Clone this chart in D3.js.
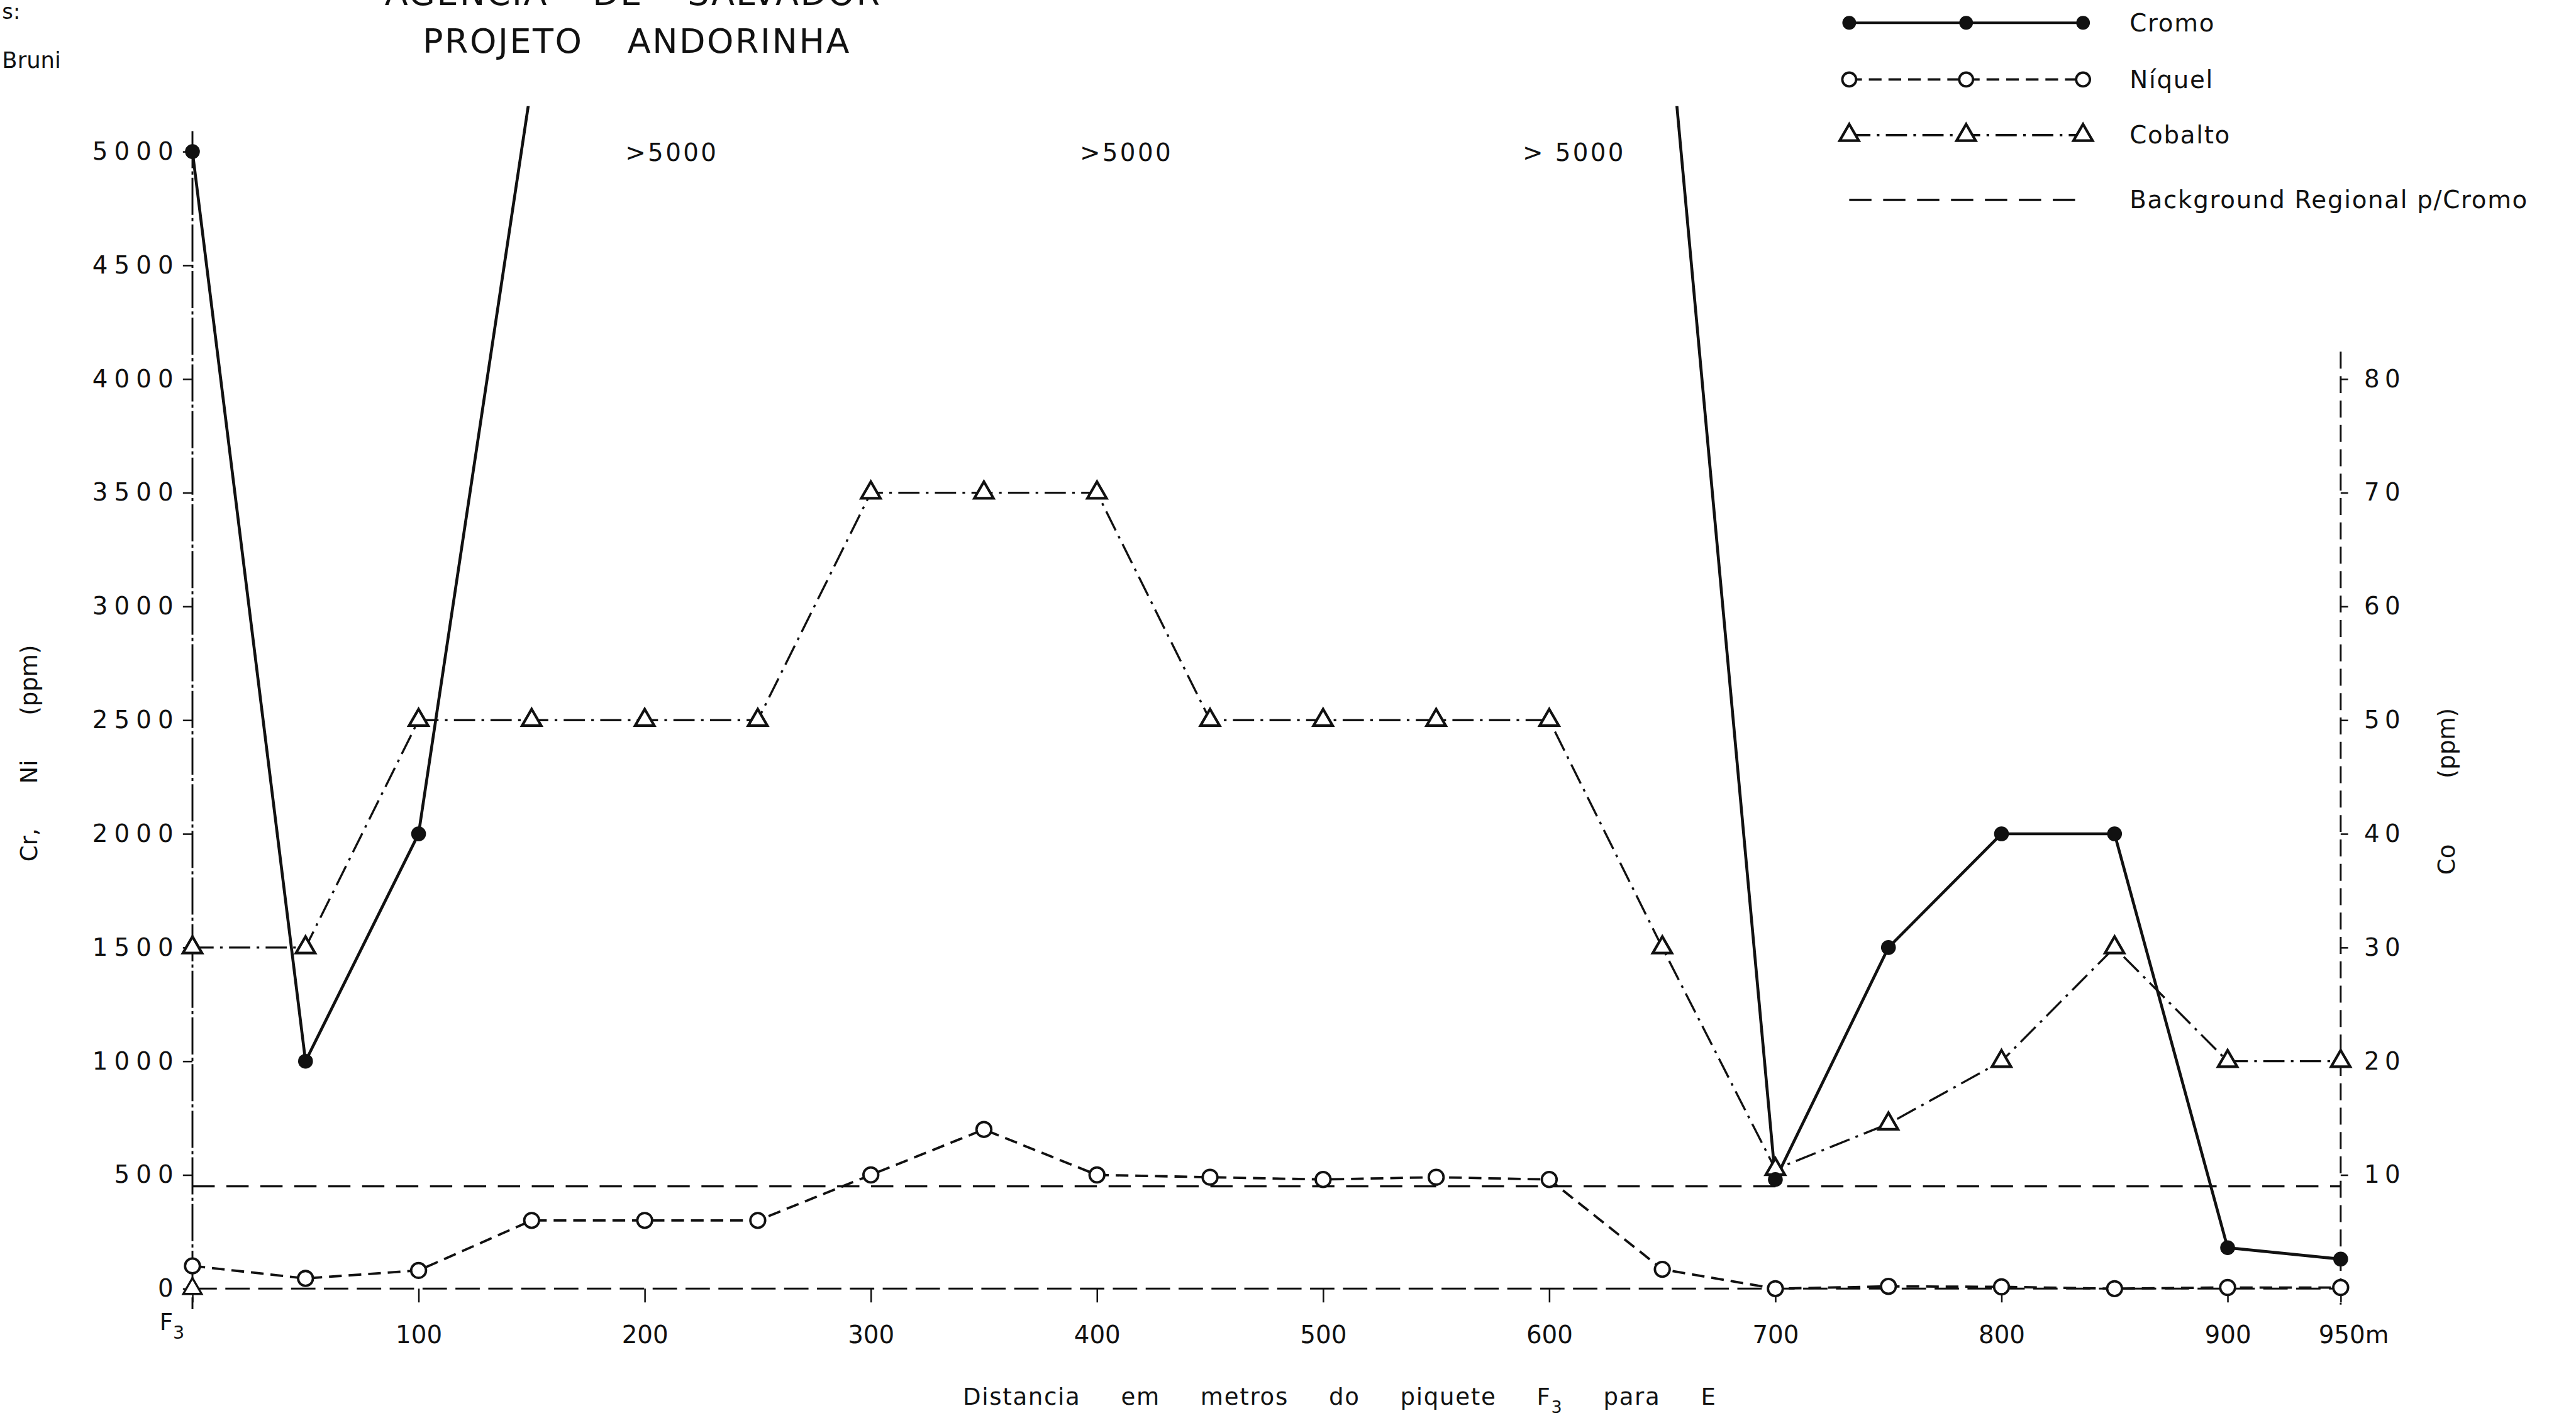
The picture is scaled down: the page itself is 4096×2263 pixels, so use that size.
<!DOCTYPE html>
<html>
<head>
<meta charset="utf-8">
<script src="https://cdn.jsdelivr.net/npm/d3@7"></script>
<style>
  html, body { margin: 0; padding: 0; background: #fff; }
  svg { display: block; }
  text { font-family: "DejaVu Sans", sans-serif; fill: #111; }
</style>
</head>
<body>
<svg id="svg"></svg>
<script>
// distances along the line, metres east of piquete F3
const distances = [0, 50, 100, 150, 200, 250, 300, 350, 400, 450, 500, 550, 600, 650, 700, 750, 800, 850, 900, 950];
// Cr ppm (null = off scale, > 5000; 150 and 650 are where the lines head off the top)
const cromo = [5000, 1000, 2000, 5300, null, null, null, null, null, null, null, null, null, 5900, 480, 1500, 2000, 2000, 180, 130];
// Ni ppm
const niquel = [100, 45, 80, 300, 300, 300, 500, 700, 500, 490, 480, 490, 480, 85, 0, 10, 8, 0, 5, 5];
// Co ppm (right axis)
const cobalto = [30, 30, 50, 50, 50, 50, 70, 70, 70, 50, 50, 50, 50, 30, 10.5, 14.5, 20, 30, 20, 20];
const backgroundCr = 450;

const crTicks = [0, 500, 1000, 1500, 2000, 2500, 3000, 3500, 4000, 4500, 5000];
const coTicks = [10, 20, 30, 40, 50, 60, 70, 80];
const xTicks = [0, 100, 200, 300, 400, 500, 600, 700, 800, 900, 950];
const xTickLabels = ["", "100", "200", "300", "400", "500", "600", "700", "800", "900", "950m"];
const overDistances = [212, 413, 611];
const overLabels = [">5000", ">5000", "> 5000"];
const legendNames = ["Cromo", "Níquel", "Cobalto", "Background Regional p/Cromo"];

const k = 0.843;            // reference px -> page px
const s = v => v * k;
const width = 4096, height = 2263;
const ink = "#111";
const cond = "'DejaVu Sans Condensed', 'DejaVu Sans', sans-serif";

let svg = d3.select("#svg").attr("width", width).attr("height", height);

let xScale = d3.scaleLinear().domain([0, 950]).range([s(363), s(4415)]);
let yScale = d3.scaleLinear().domain([0, 5000]).range([s(2431), s(286)]);
let coScale = d3.scaleLinear().domain([0, 100]).range([s(2431), s(286)]);

const dashNi = `${s(24)},${s(13)}`;
const dashCo = `${s(40)},${s(12)},${s(5)},${s(12)}`;
const dashBg = `${s(42)},${s(22)}`;

// ---- axes
let yAxis = svg.append("g")
    .attr("transform", `translate(${xScale(0)},0)`)
    .call(d3.axisLeft(yScale).tickValues(crTicks).tickFormat(d => d)
        .tickSize(s(18)).tickPadding(s(6)).tickSizeOuter(0));
yAxis.select(".domain").remove();
yAxis.selectAll(".tick line").attr("stroke", ink).attr("stroke-width", s(3));
yAxis.selectAll(".tick text")
    .attr("font-family", "'DejaVu Sans', sans-serif")
    .attr("font-size", s(46))
    .attr("letter-spacing", s(12))
    .attr("fill", ink);
yAxis.append("line")
    .attr("y1", yScale(5090)).attr("y2", yScale(-90))
    .attr("stroke", ink).attr("stroke-width", s(3.5))
    .attr("stroke-dasharray", `${s(70)},${s(6)},${s(6)},${s(6)}`);

let coAxis = svg.append("g")
    .attr("transform", `translate(${xScale(950)},0)`)
    .call(d3.axisRight(coScale).tickValues(coTicks).tickSize(s(14)).tickPadding(s(30)).tickSizeOuter(0));
coAxis.select(".domain").remove();
coAxis.selectAll(".tick line").attr("stroke", ink).attr("stroke-width", s(3));
coAxis.selectAll(".tick text")
    .attr("font-family", "'DejaVu Sans', sans-serif")
    .attr("font-size", s(46))
    .attr("letter-spacing", s(10))
    .attr("fill", ink);
coAxis.append("line")
    .attr("y1", coScale(82.4)).attr("y2", coScale(-1.4))
    .attr("stroke", ink).attr("stroke-width", s(3.5))
    .attr("stroke-dasharray", `${s(32)},${s(14)}`);

let xAxis = svg.append("g")
    .attr("transform", `translate(0,${yScale(0)})`)
    .call(d3.axisBottom(xScale).tickValues(xTicks).tickSize(s(26)).tickPadding(s(44))
        .tickFormat((d, i) => xTickLabels[i]).tickSizeOuter(0));
xAxis.select(".domain").remove();
xAxis.selectAll(".tick line").attr("stroke", ink).attr("stroke-width", s(3));
xAxis.selectAll(".tick text")
    .attr("font-family", cond)
    .attr("font-size", s(46))
    .attr("fill", ink)
    .attr("dx", d => d === 950 ? s(24) : 0);
xAxis.append("line")
    .attr("x1", xScale(0)).attr("x2", xScale(950))
    .attr("stroke", ink).attr("stroke-width", s(3.5))
    .attr("stroke-dasharray", `${s(46)},${s(16)}`);
xAxis.append("path")
    .attr("transform", `translate(${xScale(0)},0)`)
    .attr("d", d3.symbol(d3.symbolTriangle).size(s(s(520)))())
    .attr("fill", "#fff").attr("stroke", ink).attr("stroke-width", s(4));

// F3 under the origin
let f3 = svg.append("text")
    .attr("x", xScale(0) - s(62)).attr("y", yScale(0) + s(78))
    .attr("font-family", cond).attr("font-size", s(44));
f3.append("tspan").text("F");
f3.append("tspan").attr("font-size", s(34)).attr("dy", s(16)).text("3");

// ---- series
const points = distances.map((d, i) => ({d, cr: cromo[i], ni: niquel[i], co: cobalto[i]}));

svg.append("clipPath").attr("id", "plotClip")
  .append("rect")
    .attr("x", 0).attr("y", yScale(5200))
    .attr("width", width).attr("height", height);

let plot = svg.append("g").attr("id", "mark");

// background regional for Cr
plot.append("line")
    .attr("x1", xScale(0)).attr("x2", xScale(950))
    .attr("y1", yScale(backgroundCr)).attr("y2", yScale(backgroundCr))
    .attr("stroke", ink).attr("stroke-width", s(4))
    .attr("stroke-dasharray", dashBg);

let coLine = d3.line().x(d => xScale(d.d)).y(d => coScale(d.co));
plot.append("path")
    .attr("d", coLine(points))
    .attr("fill", "none").attr("stroke", ink).attr("stroke-width", s(4))
    .attr("stroke-dasharray", dashCo);

let niLine = d3.line().x(d => xScale(d.d)).y(d => yScale(d.ni));
plot.append("path")
    .attr("d", niLine(points))
    .attr("fill", "none").attr("stroke", ink).attr("stroke-width", s(4.5))
    .attr("stroke-dasharray", dashNi);

let crLine = d3.line().defined(d => d.cr != null).x(d => xScale(d.d)).y(d => yScale(d.cr));
plot.append("path")
    .attr("clip-path", "url(#plotClip)")
    .attr("d", crLine(points))
    .attr("fill", "none").attr("stroke", ink).attr("stroke-width", s(5.5));

const triangle = d3.symbol(d3.symbolTriangle).size(s(s(560)));

plot.selectAll(".coPt")
  .data(points)
  .join("path")
    .attr("class", "coPt")
    .attr("transform", d => `translate(${xScale(d.d)},${coScale(d.co)})`)
    .attr("d", triangle())
    .attr("fill", "#fff").attr("stroke", ink).attr("stroke-width", s(5));

plot.selectAll(".niPt")
  .data(points)
  .join("circle")
    .attr("class", "niPt")
    .attr("cx", d => xScale(d.d)).attr("cy", d => yScale(d.ni))
    .attr("r", s(14))
    .attr("fill", "#fff").attr("stroke", ink).attr("stroke-width", s(4.5));

plot.selectAll(".crPt")
  .data(points.filter(d => d.cr != null && d.cr <= 5000))
  .join("circle")
    .attr("class", "crPt")
    .attr("cx", d => xScale(d.d)).attr("cy", d => yScale(d.cr))
    .attr("r", s(14))
    .attr("fill", ink);

// off-scale notes
svg.selectAll(".over")
  .data(overDistances)
  .join("text")
    .attr("class", "over")
    .attr("x", d => xScale(d)).attr("y", yScale(5000) + s(18))
    .attr("text-anchor", "middle")
    .attr("font-size", s(46))
    .attr("letter-spacing", s(4))
    .text((d, i) => overLabels[i]);

// ---- titles
svg.append("text")
    .attr("x", s(1201)).attr("y", s(100))
    .attr("text-anchor", "middle")
    .attr("font-family", cond).attr("font-size", s(64))
    .attr("letter-spacing", s(3))
    .style("word-spacing", `${s(60)}px`)
    .text("PROJETO ANDORINHA");

svg.append("text")
    .attr("x", s(1194)).attr("y", s(10))
    .attr("text-anchor", "middle")
    .attr("font-family", cond).attr("font-size", s(64))
    .attr("letter-spacing", s(3))
    .style("word-spacing", `${s(60)}px`)
    .text("AGENCIA DE SALVADOR");

svg.append("text")
    .attr("x", s(4)).attr("y", s(128))
    .attr("font-family", cond).attr("font-size", s(42))
    .text("Bruni");

svg.append("text")
    .attr("x", s(4)).attr("y", s(36))
    .attr("font-family", cond).attr("font-size", s(40))
    .text("s:");

svg.append("text")
    .attr("transform", `translate(${s(70)},${s(1421)}) rotate(-90)`)
    .attr("text-anchor", "middle")
    .attr("font-family", cond).attr("font-size", s(44))
    .style("word-spacing", `${s(70)}px`)
    .text("Cr, Ni (ppm)");

svg.append("text")
    .attr("transform", `translate(${s(4630)},${s(1493)}) rotate(-90)`)
    .attr("text-anchor", "middle")
    .attr("font-family", cond).attr("font-size", s(44))
    .style("word-spacing", `${s(110)}px`)
    .text("Co (ppm)");

let xTitle = svg.append("text")
    .attr("x", s(2527)).attr("y", s(2650))
    .attr("text-anchor", "middle")
    .attr("font-family", cond).attr("font-size", s(44))
    .attr("letter-spacing", s(2))
    .style("word-spacing", `${s(60)}px`);
xTitle.append("tspan").text("Distancia em metros do piquete F");
xTitle.append("tspan").attr("font-size", s(32)).attr("dy", s(16)).text("3");
xTitle.append("tspan").attr("dy", -s(16)).text(" para E");

// ---- legend
const legendY = [43, 150, 255, 377];
const legendMarks = [0, 0.5, 1];
let lx = d3.scaleLinear().domain([0, 1]).range([s(3488), s(3929)]);
let legend = svg.append("g").attr("class", "legend");

legendNames.forEach((name, i) => {
  let row = legend.append("g").attr("transform", `translate(0,${s(legendY[i])})`);
  let dash = [null, dashNi, dashCo, dashBg][i];
  row.append("line")
      .attr("x1", lx(0)).attr("x2", lx(1))
      .attr("stroke", ink).attr("stroke-width", s(4.5))
      .attr("stroke-dasharray", dash);
  if (i === 0) {
    row.selectAll("circle").data(legendMarks).join("circle")
        .attr("cx", d => lx(d)).attr("r", s(13)).attr("fill", ink);
  } else if (i === 1) {
    row.selectAll("circle").data(legendMarks).join("circle")
        .attr("cx", d => lx(d)).attr("r", s(13))
        .attr("fill", "#fff").attr("stroke", ink).attr("stroke-width", s(4.5));
  } else if (i === 2) {
    row.selectAll("path.tri").data(legendMarks).join("path")
        .attr("class", "tri")
        .attr("transform", d => `translate(${lx(d)},0)`)
        .attr("d", triangle())
        .attr("fill", "#fff").attr("stroke", ink).attr("stroke-width", s(5));
  }
  row.append("text")
      .attr("x", s(4017)).attr("y", s(16))
      .attr("font-family", cond).attr("font-size", s(46))
      .attr("letter-spacing", s(2))
      .text(name);
});
</script>
</body>
</html>
